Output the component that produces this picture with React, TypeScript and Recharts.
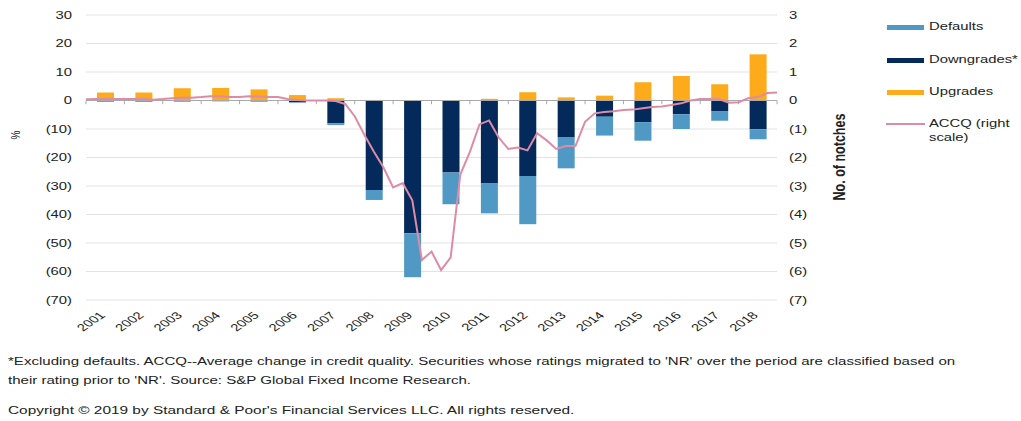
import React from "react";
import {
  ComposedChart,
  Bar,
  Line,
  XAxis,
  YAxis,
  CartesianGrid,
  ReferenceLine,
} from "recharts";

// bar values, % (left scale)
const years = [
  "2001", "2002", "2003", "2004", "2005", "2006", "2007", "2008", "2009",
  "2010", "2011", "2012", "2013", "2014", "2015", "2016", "2017", "2018",
];
const upgrades = [2.8, 2.8, 4.3, 4.4, 3.9, 1.9, 0.8, 0.2, 0.1, 0.1, 0.6, 2.9, 1.1, 1.7, 6.4, 8.6, 5.7, 16.2];
const downgrades = [-0.3, -0.3, -0.3, -0.2, -0.3, -0.6, -8.0, -31.4, -46.6, -25.3, -29.1, -26.5, -13.0, -5.7, -7.6, -4.8, -3.7, -10.1];
const defaults = [-0.2, -0.2, -0.1, -0.1, -0.1, -0.2, -0.6, -3.5, -15.4, -11.1, -10.5, -16.9, -10.8, -6.6, -6.5, -5.2, -3.4, -3.5];

// ACCQ, notches (right scale), quarterly from start of 2001 to end of 2018
const quarters = [0, 0.25, 0.5, 0.75];
const accq = [
  0.04, 0.05, 0.05, 0.05,
  0.05, 0.05, 0.05, 0.03,
  0.05, 0.08, 0.1, 0.1,
  0.12, 0.15, 0.15, 0.12,
  0.12, 0.15, 0.14, 0.12,
  0.12, 0.05, 0.02, 0.0,
  0.0, 0.0, -0.02, -0.12,
  -0.55, -1.2, -1.8, -2.35,
  -3.05, -2.9, -3.5, -5.6,
  -5.3, -5.95, -5.5, -2.6,
  -1.8, -0.84, -0.7, -1.3,
  -1.7, -1.65, -1.75, -1.15,
  -1.4, -1.7, -1.6, -1.6,
  -0.75, -0.45, -0.4, -0.38,
  -0.33, -0.32, -0.27, -0.23,
  -0.21, -0.16, -0.1, 0.0,
  0.05, 0.05, 0.04, -0.08,
  -0.06, 0.08, 0.12, 0.26,
  0.28,
];

const leftTicks = [30, 20, 10, 0, -10, -20, -30, -40, -50, -60, -70];
const rightTicks = [3, 2, 1, 0, -1, -2, -3, -4, -5, -6, -7];

const chartData = years.map((year, i) => ({
  year,
  upgrades: upgrades[i],
  downgrades: downgrades[i],
  defaults: defaults[i],
}));

const lastYear = Number(years[years.length - 1]) + 1;
const periods = [...years.flatMap((y) => quarters.map((q) => Number(y) + q)), lastYear];
const accqData = periods.map((t, i) => ({ t, accq: accq[i] }));
const boundaries = [...years.map(Number), lastYear];

const FONT = '"Liberation Sans", Arial, sans-serif';
const STRETCH = 1.48;
const TEXT = "#222";

const fmt = (v: number) => (v < 0 ? `(${-v})` : `${v}`);

const LeftTick = ({ x, y, payload }: any) => (
  <g transform={`translate(${x},${y}) scale(${STRETCH},1)`}>
    <text textAnchor="end" dy={3.5} fontSize={10} fill={TEXT} fontFamily={FONT}>
      {fmt(payload.value)}
    </text>
  </g>
);

const RightTick = ({ x, y, payload }: any) => (
  <g transform={`translate(${x},${y}) scale(${STRETCH},1)`}>
    <text textAnchor="start" dy={3.5} fontSize={10} fill={TEXT} fontFamily={FONT}>
      {fmt(payload.value)}
    </text>
  </g>
);

const YearTick = ({ x, y, payload }: any) => (
  <g transform={`translate(${x + 1},${y + 14}) scale(${STRETCH},1) rotate(-45)`}>
    <text textAnchor="end" fontSize={10} fill={TEXT} fontFamily={FONT}>
      {payload.value}
    </text>
  </g>
);

const legendItems = [
  { label: "Defaults", color: "#4f99c4", top: 27 },
  { label: "Downgrades*", color: "#032a5b", top: 60 },
  { label: "Upgrades", color: "#fdaa1b", top: 92 },
];

const stretched = (left: number, top: number, text: string, scale = STRETCH) => (
  <div
    style={{
      position: "absolute",
      left,
      top: top - 6,
      fontSize: 10,
      lineHeight: "12px",
      fontFamily: FONT,
      color: TEXT,
      whiteSpace: "nowrap",
      transform: `scaleX(${scale})`,
      transformOrigin: "0 50%",
    }}
  >
    {text}
  </div>
);

export default function App() {
  return (
    <div style={{ position: "absolute", left: 0, top: 0, width: 1021, height: 421, background: "#fff" }}>
      <ComposedChart
        width={1021}
        height={340}
        data={chartData}
        stackOffset="sign"
        margin={{ top: 15, right: 184, bottom: 0, left: 0 }}
      >
        <CartesianGrid vertical={false} stroke="#e3e3e3" yAxisId="left" />
        <XAxis
          dataKey="year"
          height={40}
          axisLine={false}
          tickLine={false}
          tickSize={0}
          interval={0}
          tick={<YearTick />}
        />
        <XAxis xAxisId="t" type="number" dataKey="t" domain={[2001, 2019]} hide allowDataOverflow />
        <YAxis
          yAxisId="left"
          width={86}
          domain={[-70, 30]}
          ticks={leftTicks}
          axisLine={false}
          tickLine={false}
          tickSize={0}
          tickMargin={14}
          tick={<LeftTick />}
        />
        <YAxis
          yAxisId="right"
          orientation="right"
          width={60}
          domain={[-7, 3]}
          ticks={rightTicks}
          axisLine={false}
          tickLine={false}
          tickSize={0}
          tickMargin={12}
          tick={<RightTick />}
        />
        <Bar dataKey="downgrades" stackId="a" yAxisId="left" fill="#032a5b" barSize={17} isAnimationActive={false} />
        <Bar dataKey="defaults" stackId="a" yAxisId="left" fill="#4f99c4" barSize={17} isAnimationActive={false} />
        <Bar dataKey="upgrades" stackId="a" yAxisId="left" fill="#fdaa1b" barSize={17} isAnimationActive={false} />
        <ReferenceLine y={0} yAxisId="left" stroke="#a9a9a9" strokeWidth={1} />
        {boundaries.map((b) => (
          <ReferenceLine
            key={b}
            xAxisId="t"
            yAxisId="left"
            segment={[{ x: b, y: 0 }, { x: b, y: -1.3 }]}
            stroke="#a9a9a9"
          />
        ))}
        <Line
          data={accqData}
          xAxisId="t"
          yAxisId="right"
          dataKey="accq"
          type="linear"
          stroke="#de8ba6"
          strokeWidth={2}
          dot={false}
          isAnimationActive={false}
        />
      </ComposedChart>

      {/* axis titles */}
      <div
        style={{
          position: "absolute",
          left: 15,
          top: 135,
          fontSize: 10,
          fontFamily: FONT,
          color: TEXT,
          transform: "translate(-50%,-50%) scaleX(1.3) rotate(-90deg)",
        }}
      >
        %
      </div>
      <div
        style={{
          position: "absolute",
          left: 840,
          top: 157,
          fontSize: 12.5,
          fontWeight: "bold",
          fontFamily: FONT,
          color: TEXT,
          whiteSpace: "nowrap",
          transform: "translate(-50%,-50%) scaleX(1.3) rotate(-90deg)",
        }}
      >
        No. of notches
      </div>

      {/* legend */}
      {legendItems.map((it) => (
        <React.Fragment key={it.label}>
          <div style={{ position: "absolute", left: 887, top: it.top - 2, width: 37, height: 5, background: it.color }} />
          {stretched(929, it.top, it.label)}
        </React.Fragment>
      ))}
      <div style={{ position: "absolute", left: 886, top: 123, width: 39, height: 2, background: "#de8ba6" }} />
      {stretched(929, 124, "ACCQ (right")}
      {stretched(929, 138, "scale)")}

      {/* footnotes */}
      {stretched(
        8,
        362,
        "*Excluding defaults. ACCQ--Average change in credit quality. Securities whose ratings migrated to 'NR' over the period are classified based on",
        1.505
      )}
      {stretched(8, 381, "their rating prior to 'NR'. Source: S&P Global Fixed Income Research.", 1.505)}
      {stretched(8, 411, "Copyright \u00a9 2019 by Standard & Poor's Financial Services LLC. All rights reserved.", 1.54)}
    </div>
  );
}
